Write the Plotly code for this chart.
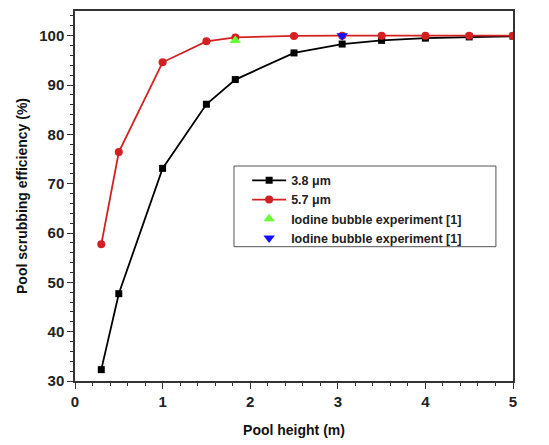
import plotly.graph_objects as go

pool_height = [0.3, 0.5, 1.0, 1.5, 1.83, 2.5, 3.05, 3.5, 4.0, 4.5, 5.0]
eff_38 = [32.3, 47.7, 73.1, 86.1, 91.1, 96.5, 98.3, 99.05, 99.5, 99.75, 99.9]
eff_57 = [57.7, 76.4, 94.6, 98.85, 99.65, 99.95, 100.0, 100.0, 100.0, 100.0, 100.0]
exp_green_x = [1.83]
exp_green_y = [99.0]
exp_blue_x = [3.05]
exp_blue_y = [100.0]

FONT = "Liberation Sans, Arial, sans-serif"

fig = go.Figure()
fig.add_trace(go.Scatter(x=pool_height, y=eff_38, mode="lines+markers", name="3.8 μm",
                         line=dict(color="black", width=1.8),
                         marker=dict(symbol="square", size=7, color="black")))
fig.add_trace(go.Scatter(x=pool_height, y=eff_57, mode="lines+markers", name="5.7 μm",
                         line=dict(color="#d42020", width=1.8),
                         marker=dict(symbol="circle", size=8, color="#d42020")))
fig.add_trace(go.Scatter(x=exp_green_x, y=exp_green_y, mode="markers", name="Iodine bubble experiment [1]",
                         marker=dict(symbol="triangle-up", size=10, color="#66ff33")))
fig.add_trace(go.Scatter(x=exp_blue_x, y=exp_blue_y, mode="markers", name="Iodine bubble experiment [1]",
                         marker=dict(symbol="triangle-down", size=10, color="#1010ff")))

axis_common = dict(showgrid=False, zeroline=False, showline=True, linecolor="#333", linewidth=1.5,
                   mirror=True, ticks="outside", ticklen=6, tickwidth=1.2, tickcolor="#333",
                   tickfont=dict(family=FONT, size=15, color="#222", weight="bold"))

fig.update_xaxes(range=[0, 5], dtick=1, tick0=0,
                 minor=dict(dtick=0.2, ticks="outside", ticklen=3, tickcolor="#333"),
                 title=dict(text="Pool height (m)", font=dict(family=FONT, size=14, color="#111", weight="bold"), standoff=16),
                 **axis_common)
fig.update_yaxes(range=[30, 105], dtick=10, tick0=30,
                 minor=dict(dtick=2, ticks="outside", ticklen=3, tickcolor="#333"),
                 title=dict(text="Pool scrubbing efficiency (%)", font=dict(family=FONT, size=14, color="#111", weight="bold"), standoff=8),
                 **axis_common)

# legend frame
fig.add_shape(type="rect", xref="paper", yref="paper", x0=0.363, x1=0.961, y0=0.363, y1=0.581,
              line=dict(color="#555", width=1), fillcolor="white", layer="below")

fig.update_layout(
    width=549, height=445,
    margin=dict(l=75, r=36, t=9, b=59),
    paper_bgcolor="white", plot_bgcolor="white",
    font=dict(family=FONT, size=13, color="#222"),
    legend=dict(x=0.393, y=0.582, xanchor="left", yanchor="top",
                borderwidth=0, bgcolor="rgba(0,0,0,0)",
                font=dict(family=FONT, size=12.5, color="#222", weight="bold"),
                tracegroupgap=0, itemwidth=34),
    showlegend=True,
)

fig.write_html("out.html")
